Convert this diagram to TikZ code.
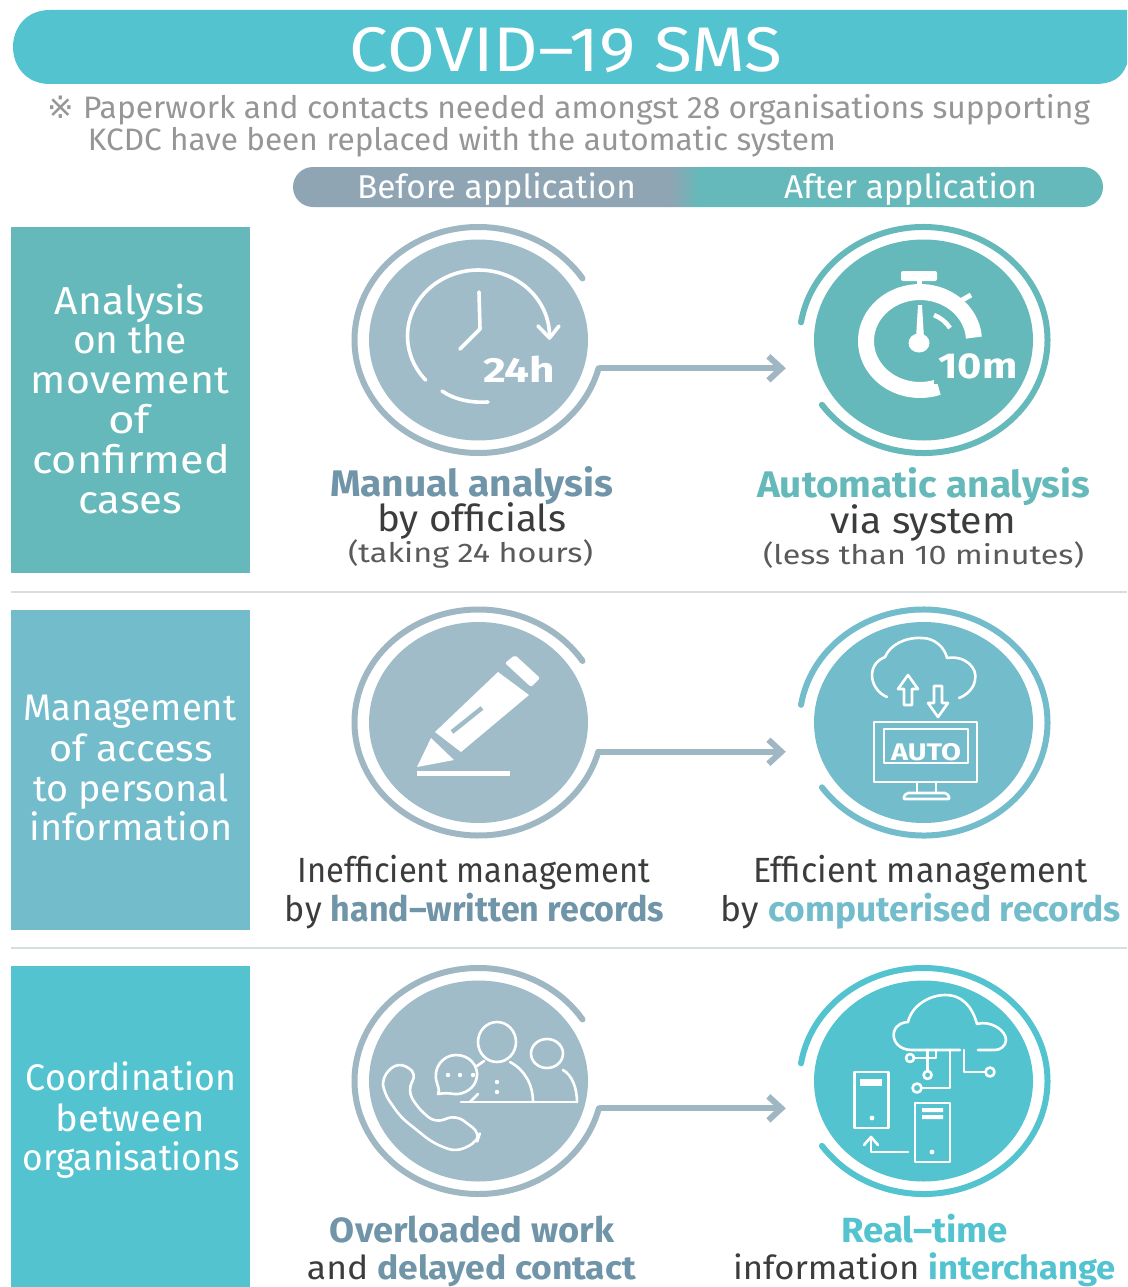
\documentclass[tikz,border=0pt]{standalone}
\usepackage{fontspec}
\usepackage{graphicx}
\setmainfont{Fira Sans}
\newfontfamily\symfont{DejaVu Sans}
\usetikzlibrary{shapes.geometric,arrows.meta,calc}
\definecolor{greyc}{HTML}{A0BCC9}
\definecolor{greyr}{HTML}{9FB7C3}
\definecolor{tealA}{HTML}{65B9BA}
\definecolor{tealB}{HTML}{72BCCB}
\definecolor{tealC}{HTML}{52C3CF}
\definecolor{barg}{HTML}{8FA5B4}
\definecolor{subg}{HTML}{969696}
\definecolor{darkt}{HTML}{3C3C3C}
\definecolor{midt}{HTML}{5A5A5A}
\definecolor{boldg}{HTML}{7094A8}
\definecolor{sep}{HTML}{D6DEE1}
\newcommand\fitw[2]{\resizebox{#1pt}{\height}{#2}}
% name, centre x, baseline y, width, size, colour, text
\newcommand\tl[7]{\node[txt,text=#6,font=\fontsize{#5}{#5}\selectfont] (#1) at (#2,#3) {\fitw{#4}{#7}};}
\newcommand\bfc[2]{{\bfseries\color{#1}#2}}
\tikzset{
  txt/.style={anchor=base,inner sep=0pt,outer sep=0pt},
  disk/.style={ellipse,minimum width=219pt,minimum height=201pt,inner sep=0pt,draw=none,fill=#1},
  ringl/.style={line width=6pt,line cap=round,draw=#1},
  link/.style={line width=6pt,draw=greyr,-{Straight Barb[length=13pt,width=24pt,line width=6pt]},shorten >=28pt},
  ic/.style={draw=white,line width=2.6pt,fill=none,line join=round,line cap=round},
  icthick/.style={draw=white,line width=3.6pt,fill=none,line join=round,line cap=round},
  icfill/.style={fill=white,draw=none},
  seprule/.style={draw=sep,line width=1.4pt}
}
\begin{document}
\begin{tikzpicture}[x=1pt,y=1pt,yscale=-1]
\useasboundingbox (0,0) rectangle (1127,1287);
\fill[white] (0,0) rectangle (1127,1287);
% header
\fill[tealC] (50,10) -- (1127,10) -- (1127,64) .. controls (1122,78) and (1112,84) .. (1095,84) -- (50,84) .. controls (25,84) and (13,65) .. (13,47) .. controls (13,29) and (25,10) .. (50,10) -- cycle;
\tl{title}{566}{72}{432}{63}{white}{COVID–19 SMS}
\tl{sub1}{569}{118}{1042}{31}{subg}{{\symfont ※} Paperwork and contacts needed amongst 28 organisations supporting}
\tl{sub2}{462}{150}{748}{31}{subg}{KCDC have been replaced with the automatic system}
% before / after bar
\begin{scope}
\clip (313,167) -- (1083,167) arc[start angle=-90,end angle=90,radius=20pt] -- (313,207) arc[start angle=90,end angle=270,radius=20pt] -- cycle;
\fill[barg] (290,160) rectangle (672,215);
\fill[tealA] (698,160) rectangle (1110,215);
\shade[left color=barg,right color=tealA] (671,160) rectangle (699,215);
\end{scope}
\tl{before}{496.5}{198}{279}{33}{white}{Before application}
\tl{after}{910.5}{198}{253}{33}{white}{After application}
% side panels
\fill[tealA] (11,227) rectangle (250,573);
\fill[tealB] (11,610) rectangle (250,930);
\fill[tealC] (11,966) rectangle (250,1287);
\tl{a1}{130}{314}{150}{39}{white}{Analysis}
\tl{a2}{130}{353}{114}{39}{white}{on the}
\tl{a3}{130}{393}{198}{39}{white}{movement}
\tl{a4}{129}{433}{42}{39}{white}{of}
\tl{a5}{131}{473}{198}{39}{white}{confirmed}
\tl{a6}{130}{513}{104}{39}{white}{cases}
\tl{b1}{130}{720}{213}{37}{white}{Management}
\tl{b2}{131}{761}{163}{37}{white}{of access}
\tl{b3}{131}{801}{195}{37}{white}{to personal}
\tl{b4}{131}{840}{203}{37}{white}{information}
\tl{c1}{131}{1090}{210}{37}{white}{Coordination}
\tl{c2}{130}{1131}{149}{37}{white}{between}
\tl{c3}{131}{1170}{217}{37}{white}{organisations}
% separators
\draw[seprule] (11,592) -- (1127,592);
\draw[seprule] (11,948) -- (1127,948);
% disks
\node[disk=greyc] (dl1) at (478.5,340) {};
\node[disk=greyc] (dl2) at (478.5,722.5) {};
\node[disk=greyc] (dl3) at (478.5,1081) {};
\node[disk=tealA] (dr1) at (923.5,340) {};
\node[disk=tealB] (dr2) at (923.5,722.5) {};
\node[disk=tealC] (dr3) at (923.5,1081) {};
% rings + connectors
\foreach \r/\ea in {1/-14.5,2/-15,3/-14}{
  \draw[ringl=greyr] ($(dl\r.center)+(-33:124pt and 113pt)$) arc[start angle=-33,end angle=-360+\ea*-1,x radius=124pt,y radius=113pt] coordinate (ca\r);
  \draw[link] (ca\r) -- (ca\r -| dr\r.west);
}
\draw[ringl=tealA] ($(dr1.center)+(-171:124pt and 113pt)$) arc[start angle=-171,end angle=145,x radius=124pt,y radius=113pt];
\draw[ringl=tealB] ($(dr2.center)+(-171:124pt and 113pt)$) arc[start angle=-171,end angle=145,x radius=124pt,y radius=113pt];
\draw[ringl=tealC] ($(dr3.center)+(-171:124pt and 113pt)$) arc[start angle=-171,end angle=145,x radius=124pt,y radius=113pt];
% clock icon
\draw[icthick] (549.5,336) arc[start angle=0,end angle=-222,x radius=71pt,y radius=66pt];
\draw[icthick] (442,391) .. controls (455,400) and (472,403) .. (488,402);
\draw[icthick] (538,326) -- (549.5,338) -- (559,326);
\draw[icthick] (479,292) -- (480,329) -- (460,349);
\node[txt,text=white,font=\fontsize{35}{35}\selectfont\bfseries] (h24) at (519,382) {\fitw{72}{24h}};
% stopwatch icon
\draw[white,line width=16pt] ($(920,341)+(-4:54pt and 49pt)$) arc[start angle=-4,end angle=-290,x radius=54pt,y radius=49pt];
\fill[white,rounded corners=2pt] (901,271) rectangle (937,281);
\draw[white,line width=5pt] (919,281) -- (919,290);
\draw[white,line width=5pt] (957,303) -- (971,295);
\draw[white,line width=4.5pt] (934,315) .. controls (941,318) and (946,322) .. (950,328);
\fill[white] (918,305) -- (922,305) -- (924,338) -- (916,338) -- cycle;
\fill[white] (919,343) ellipse[x radius=10.5pt,y radius=9.5pt];
\fill[tealA] (934,348) rectangle (1020,384);
\node[txt,text=white,font=\fontsize{36}{36}\selectfont\bfseries] (m10) at (978,378) {\fitw{79}{10m}};
% pencil icon
\fill[icfill] (417,767) -- (431,738) -- (454,760) -- cycle;
\fill[icfill] (435,732) -- (498,672) -- (529,695) -- (461,752) -- cycle;
\fill[icfill,rounded corners=2pt] (505,663) -- (515,655) -- (540,678) -- (531,687) -- cycle;
\draw[greyc,line width=4.5pt] (452,732) -- (482,708);
\fill[icfill] (417,771) rectangle (510,775.5);
% cloud + AUTO icon
\draw[ic] (887,697) .. controls (870,690) and (865,665) .. (885,657) .. controls (890,645) and (905,637) .. (922,638) .. controls (935,638) and (945,648) .. (947,658) .. controls (965,655) and (978,668) .. (975,680) .. controls (974,688) and (967,695) .. (959,698);
\draw[ic] (904,705) -- (904,689) -- (898,689) -- (908,675) -- (918,689) -- (912,689) -- (912,705) -- cycle;
\draw[ic] (934,686) -- (934,703) -- (928,703) -- (938,717) -- (948,703) -- (942,703) -- (942,686) -- cycle;
\draw[ic] (874,722) rectangle (977,782);
\draw[ic] (884,729) rectangle (968,763);
\node[txt,text=white,font=\fontsize{24}{24}\selectfont\bfseries] (auto) at (926,760) {\fitw{70}{AUTO}};
\draw[ic] (917,782) -- (917,793) (936,782) -- (936,793);
\draw[ic,rounded corners=2pt] (903,799) -- (906,793) -- (947,793) -- (950,799) -- cycle;
% people + phone icon
\draw[ic,rounded corners=9pt] (382,1077) -- (398,1062) -- (417,1073) -- (407.5,1090) -- (417,1107) -- (435,1123) -- (456,1115) -- (480,1133) -- (477,1142) -- (456,1152) -- (433,1143) -- (400.5,1117) -- (384,1093) -- cycle;
\draw[ic] (497,1042) ellipse[x radius=19pt,y radius=20pt];
\draw[ic] (547,1053.5) ellipse[x radius=16pt,y radius=14.5pt];
\draw[ic] (461,1102) -- (577,1102);
\draw[ic] (533,1102) .. controls (533,1085) and (525,1070) .. (510,1062);
\draw[ic] (563,1070) .. controls (572,1075) and (577,1088) .. (577,1102);
\draw[ic] (478,1094) -- (470,1102);
\draw[ic] (484,1061) -- (477,1066);
\draw[ic] (438,1094) .. controls (440,1090) and (438,1087) .. (437,1083) .. controls (432,1068) and (443,1055) .. (456,1055) .. controls (470,1055) and (478,1066) .. (477,1076) .. controls (476,1088) and (464,1095) .. (454,1094) .. controls (448,1093) and (444,1093) .. (438,1094) -- cycle;
\foreach \px in {448,460,473} \fill[white] (\px,1075) circle[radius=2.2pt];
\fill[white] (497,1082) circle[radius=2.2pt] (497,1092) circle[radius=2.2pt];
% cloud + servers icon
\draw[ic] (960,1050) -- (912,1050) .. controls (898,1050) and (892,1040) .. (894,1032) .. controls (896,1024) and (904,1022) .. (908,1022) .. controls (912,1005) and (930,995) .. (945,995) .. controls (962,995) and (972,1006) .. (977,1024) .. controls (990,1020) and (1006,1030) .. (1006,1040) .. controls (1006,1046) and (1000,1050) .. (995,1050) -- (978,1050);
\draw[ic] (950,1050) -- (950,1088) -- (922,1088);
\draw[ic] (917,1088) circle[radius=4.5pt];
\draw[ic] (964,1050) -- (964,1072) -- (985,1072);
\draw[ic] (990,1072) circle[radius=4.5pt];
\draw[ic] (927.6,1050) -- (927.6,1071);
\draw[ic] (927.6,1075) circle[radius=4pt];
\draw[ic] (914,1058) -- (936,1058) -- (936,1050);
\draw[ic] (910,1058) circle[radius=4pt];
\draw[ic] (854.5,1072) rectangle (888.5,1128);
\fill[white] (860,1079) rectangle (882,1086);
\fill[white] (872,1118) circle[radius=2.4pt];
\draw[ic] (915,1103) rectangle (950,1162);
\fill[white] (922,1108) rectangle (943,1112) (922,1115) rectangle (943,1119);
\fill[white] (932,1152) circle[radius=2.4pt];
\draw[ic] (908,1152) -- (871,1152) -- (871,1137);
\draw[ic] (864,1145) -- (871,1137) -- (878,1145);
% captions
\tl{l11}{471.5}{496}{283}{37}{boldg}{\bfseries Manual analysis}
\tl{l12}{471.5}{531}{189}{37}{darkt}{by officials}
\tl{l13}{470.5}{562}{245}{27}{midt}{(taking 24 hours)}
\tl{r11}{923.5}{497}{333}{37}{tealA}{\bfseries Automatic analysis}
\tl{r12}{923}{533}{186}{37}{darkt}{via system}
\tl{r13}{923.5}{564}{321}{27}{midt}{(less than 10 minutes)}
\tl{l21}{474}{882}{352}{35}{darkt}{Inefficient management}
\tl{l22}{474.5}{921}{379}{35}{darkt}{by \bfc{boldg}{hand–written records}}
\tl{r21}{920.5}{882}{335}{35}{darkt}{Efficient management}
\tl{r22}{921}{921}{400}{35}{darkt}{by \bfc{tealB}{computerised records}}
\tl{l31}{472}{1242}{284}{35}{boldg}{\bfseries Overloaded work}
\tl{l32}{471.5}{1279}{329}{33}{darkt}{and \bfc{boldg}{delayed contact}}
\tl{r31}{924.5}{1242}{167}{35}{tealC}{\bfseries Real–time}
\tl{r32}{924.5}{1279}{383}{33}{darkt}{information \bfc{tealC}{interchange}}
\end{tikzpicture}
\end{document}
